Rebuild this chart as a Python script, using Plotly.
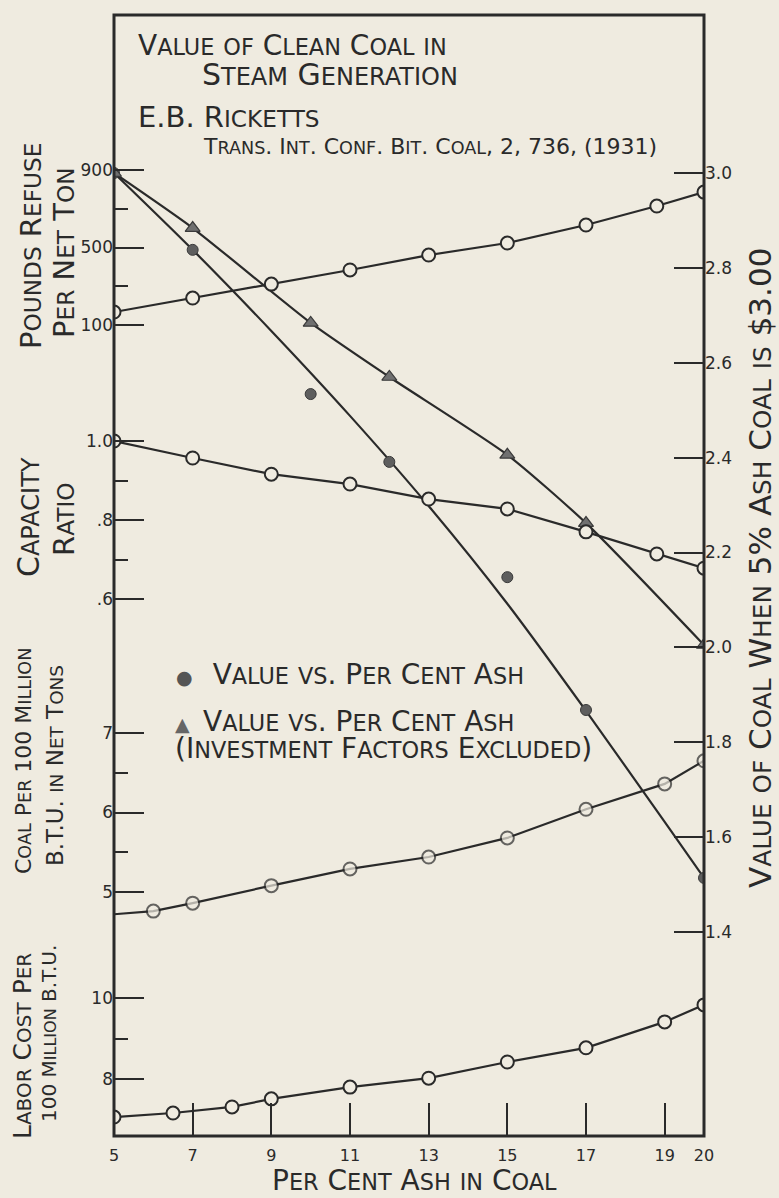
import plotly.graph_objects as go

# ---------------- data ----------------
ash_ticks = [5, 7, 9, 11, 13, 15, 17, 19, 20]

ash_refuse = [5, 7, 9, 11, 13, 15, 17, 18.8, 20]
refuse_lbs = [167, 239, 311, 384, 461, 523, 616, 714, 786]

ash_capacity = [5, 7, 9, 11, 13, 15, 17, 18.8, 20]
capacity_ratio = [1.0, 0.957, 0.916, 0.891, 0.853, 0.828, 0.770, 0.714, 0.678]

ash_coal = [5, 6, 7, 9, 11, 13, 15, 17, 19, 20]
coal_tons = [4.72, 4.76, 4.86, 5.08, 5.29, 5.44, 5.68, 6.04, 6.36, 6.65]

ash_labor = [5, 6.5, 8, 9, 11, 13, 15, 17, 19, 20]
labor_cost = [7.06, 7.16, 7.31, 7.51, 7.80, 8.02, 8.42, 8.77, 9.41, 9.83]

ash_value_pts = [5, 7, 10, 12, 15, 17, 20]
value_pts = [3.0, 2.838, 2.534, 2.391, 2.148, 1.868, 1.514]

ash_value_fit = [5, 7, 9, 11, 13, 15, 17, 19, 20]
value_fit = [3.0, 2.838, 2.667, 2.488, 2.298, 2.092, 1.866, 1.632, 1.514]

ash_value_ex = [5, 7, 10, 12, 15, 17, 20]
value_ex = [3.0, 2.884, 2.684, 2.570, 2.406, 2.262, 2.005]

refuse_ticks = [100, 500, 900]
refuse_minor = [300, 700]
capacity_ticks = [0.6, 0.8, 1.0]
capacity_labels = [".6", ".8", "1.0"]
capacity_minor = [0.7, 0.9]
coal_ticks = [5, 6, 7]
coal_minor = [5.5, 6.5]
labor_ticks = [8, 10]
labor_minor = [9]
value_ticks = [1.4, 1.6, 1.8, 2.0, 2.2, 2.4, 2.6, 2.8, 3.0]
value_labels = ["1.4", "1.6", "1.8", "2.0", "2.2", "2.4", "2.6", "2.8", "3.0"]

# ---------------- layout helpers ----------------
FW, FH = 779, 1198
L, R, T, B = 114, 704, 15, 1136
PW, PH = R - L, B - T
INK = "#2a2a2a"
BG = "#efebe0"
FONT = "DejaVu Sans"
NB = "\u00a0"


def px_x(p):
    return (p - L) / PW


def px_y(p):
    return (B - p) / PH


def axis_map(v1, p1, v2, p2, top_px, bot_px):
    k = (v1 - v2) / (p2 - p1)
    return dict(domain=[px_y(bot_px), px_y(top_px)],
                range=[v2 - (bot_px - p2) * k, v1 + (p1 - top_px) * k])


def yax(m, ticks, labels=None, minor=None, side="left"):
    d = dict(
        domain=m["domain"], range=m["range"], anchor="x", side=side,
        showgrid=False, zeroline=False, showline=False,
        tickmode="array", tickvals=ticks,
        ticktext=labels if labels else [str(t) for t in ticks],
        ticks="inside", ticklen=30, tickwidth=2, tickcolor=INK,
        tickfont=dict(size=17, family=FONT, color=INK),
    )
    if minor:
        d["minor"] = dict(tickmode="array", tickvals=minor, ticks="inside",
                          ticklen=14, tickwidth=2, tickcolor=INK, showgrid=False)
    return d


def sc(text, size, ratio=0.8, wrap_big=False):
    """Hand-lettered small caps: lowercase letters drawn as smaller capitals."""
    small = round(size * ratio, 1)
    out, buf, big = [], "", ""

    def flush_small():
        nonlocal buf
        if buf:
            out.append(f'<span style="font-size:{small}px">{buf}</span>')
            buf = ""

    def flush_big():
        nonlocal big
        if big:
            out.append(f'<span style="font-size:{size}px">{big}</span>' if wrap_big else big)
            big = ""

    for ch in text:
        if ch.islower():
            flush_big()
            buf += ch.upper()
        else:
            flush_small()
            big += ch
    flush_small()
    flush_big()
    return "".join(out)


def ann(text, x_px, y_px, size, angle=0, xanchor="left", color=INK, caps=True):
    return dict(text=sc(text, size) if caps else text,
                x=px_x(x_px), y=px_y(y_px), xref="paper", yref="paper",
                showarrow=False, textangle=angle, xanchor=xanchor, yanchor="middle",
                align="left",
                font=dict(size=size, family=FONT, color=color))


open_marker = dict(symbol="circle", size=13, color=BG, line=dict(color=INK, width=2))
line_style = dict(color=INK, width=2.2)

fig = go.Figure()

# value curves first (drawn underneath the open-circle series)
fig.add_trace(go.Scatter(x=ash_value_fit, y=value_fit, xaxis="x", yaxis="y", mode="lines",
                         line=dict(line_style, shape="spline", smoothing=0.8), showlegend=False))
fig.add_trace(go.Scatter(x=ash_value_pts, y=value_pts, xaxis="x", yaxis="y", mode="markers",
                         marker=dict(symbol="circle", size=11, color="#5e5e5e",
                                     line=dict(color="#3a3a3a", width=1)), showlegend=False))
fig.add_trace(go.Scatter(x=ash_value_ex, y=value_ex, xaxis="x", yaxis="y", mode="lines+markers",
                         line=dict(line_style, shape="spline", smoothing=0.6),
                         marker=dict(symbol="triangle-up", size=13, color="#707070",
                                     line=dict(color="#3a3a3a", width=1.2)), showlegend=False))
fig.add_trace(go.Scatter(x=ash_refuse, y=refuse_lbs, xaxis="x", yaxis="y2", mode="lines+markers",
                         line=line_style, marker=open_marker, showlegend=False))
fig.add_trace(go.Scatter(x=ash_capacity, y=capacity_ratio, xaxis="x", yaxis="y3",
                         mode="lines+markers", line=line_style, marker=open_marker,
                         showlegend=False))
fig.add_trace(go.Scatter(x=ash_coal, y=coal_tons, xaxis="x", yaxis="y4", mode="lines+markers",
                         line=line_style,
                         marker=dict(open_marker, size=[0] + [13] * (len(ash_coal) - 1)),
                         showlegend=False))
fig.add_trace(go.Scatter(x=ash_labor, y=labor_cost, xaxis="x", yaxis="y5", mode="lines+markers",
                         line=line_style, marker=open_marker, showlegend=False))

legend_dot = ('<span style="font-size:19px;color:#555555">●</span>' + NB * 3
              + sc("Value vs. Per Cent Ash", 28, wrap_big=True))
legend_tri = ('<span style="font-size:19px;color:#666666">▲</span>' + NB * 2
              + sc("Value vs. Per Cent Ash", 28, wrap_big=True) + "<br>"
              + sc("(Investment Factors Excluded)", 28, wrap_big=True))

annotations = [
    ann("Value of Clean Coal in", 136, 45, 28),
    ann("Steam Generation", 200, 74, 30),
    ann("E.B. Ricketts", 136, 117, 29),
    ann("Trans. Int. Conf. Bit. Coal, 2, 736, (1931)", 201, 147, 22),
    ann(legend_dot, 174, 674, 21, caps=False),
    ann(legend_tri, 173, 735, 21, caps=False),
    ann("Per Cent Ash in Coal", 415, 1180, 28, xanchor="center"),
    ann("Pounds Refuse", 31, 246, 29, angle=-90, xanchor="center"),
    ann("Per Net Ton", 64, 253, 29, angle=-90, xanchor="center"),
    ann("Capacity", 28, 517, 30, angle=-90, xanchor="center"),
    ann("Ratio", 64, 520, 29, angle=-90, xanchor="center"),
    ann("Coal Per 100 Million", 23, 761, 22, angle=-90, xanchor="center"),
    ann("B.T.U. in Net Tons", 55, 766, 23, angle=-90, xanchor="center"),
    ann("Labor Cost Per", 22, 1046, 25, angle=-90, xanchor="center"),
    ann("100 Million B.T.U.", 49, 1034, 20, angle=-90, xanchor="center"),
    ann("Value of Coal When 5% Ash Coal is $3.00", 760, 568, 31,
        angle=-90, xanchor="center"),
]

fig.update_layout(
    width=FW, height=FH,
    margin=dict(l=L, r=FW - R, t=T, b=FH - B),
    paper_bgcolor=BG, plot_bgcolor="rgba(0,0,0,0)",
    showlegend=False,
    xaxis=dict(domain=[0, 1], range=[5, 20], anchor="y5",
               showgrid=False, zeroline=False, showline=False,
               tickmode="array", tickvals=ash_ticks, ticktext=[str(t) for t in ash_ticks],
               ticks="inside", ticklen=33, tickwidth=2, tickcolor=INK,
               ticklabelstandoff=8,
               tickfont=dict(size=16, family=FONT, color=INK)),
    yaxis=yax(axis_map(3.0, 173, 1.4, 932, 160, 945), value_ticks, value_labels, side="right"),
    yaxis2=yax(axis_map(900, 170, 100, 325, 150, 340), refuse_ticks, minor=refuse_minor),
    yaxis3=yax(axis_map(1.0, 441, 0.6, 599, 425, 615), capacity_ticks, capacity_labels,
               minor=capacity_minor),
    yaxis4=yax(axis_map(7, 733, 5, 892, 700, 935), coal_ticks, minor=coal_minor),
    yaxis5=yax(axis_map(10, 998, 8, 1079, 960, B), labor_ticks, minor=labor_minor),
    shapes=[dict(type="rect", xref="paper", yref="paper", x0=0, x1=1, y0=0, y1=1,
                 line=dict(color=INK, width=3), layer="above")],
    annotations=annotations,
)

fig.write_html("out.html",
               config={"displayModeBar": False},
               post_script="document.body.style.margin='0';"
                           "document.body.style.background='" + BG + "';")
